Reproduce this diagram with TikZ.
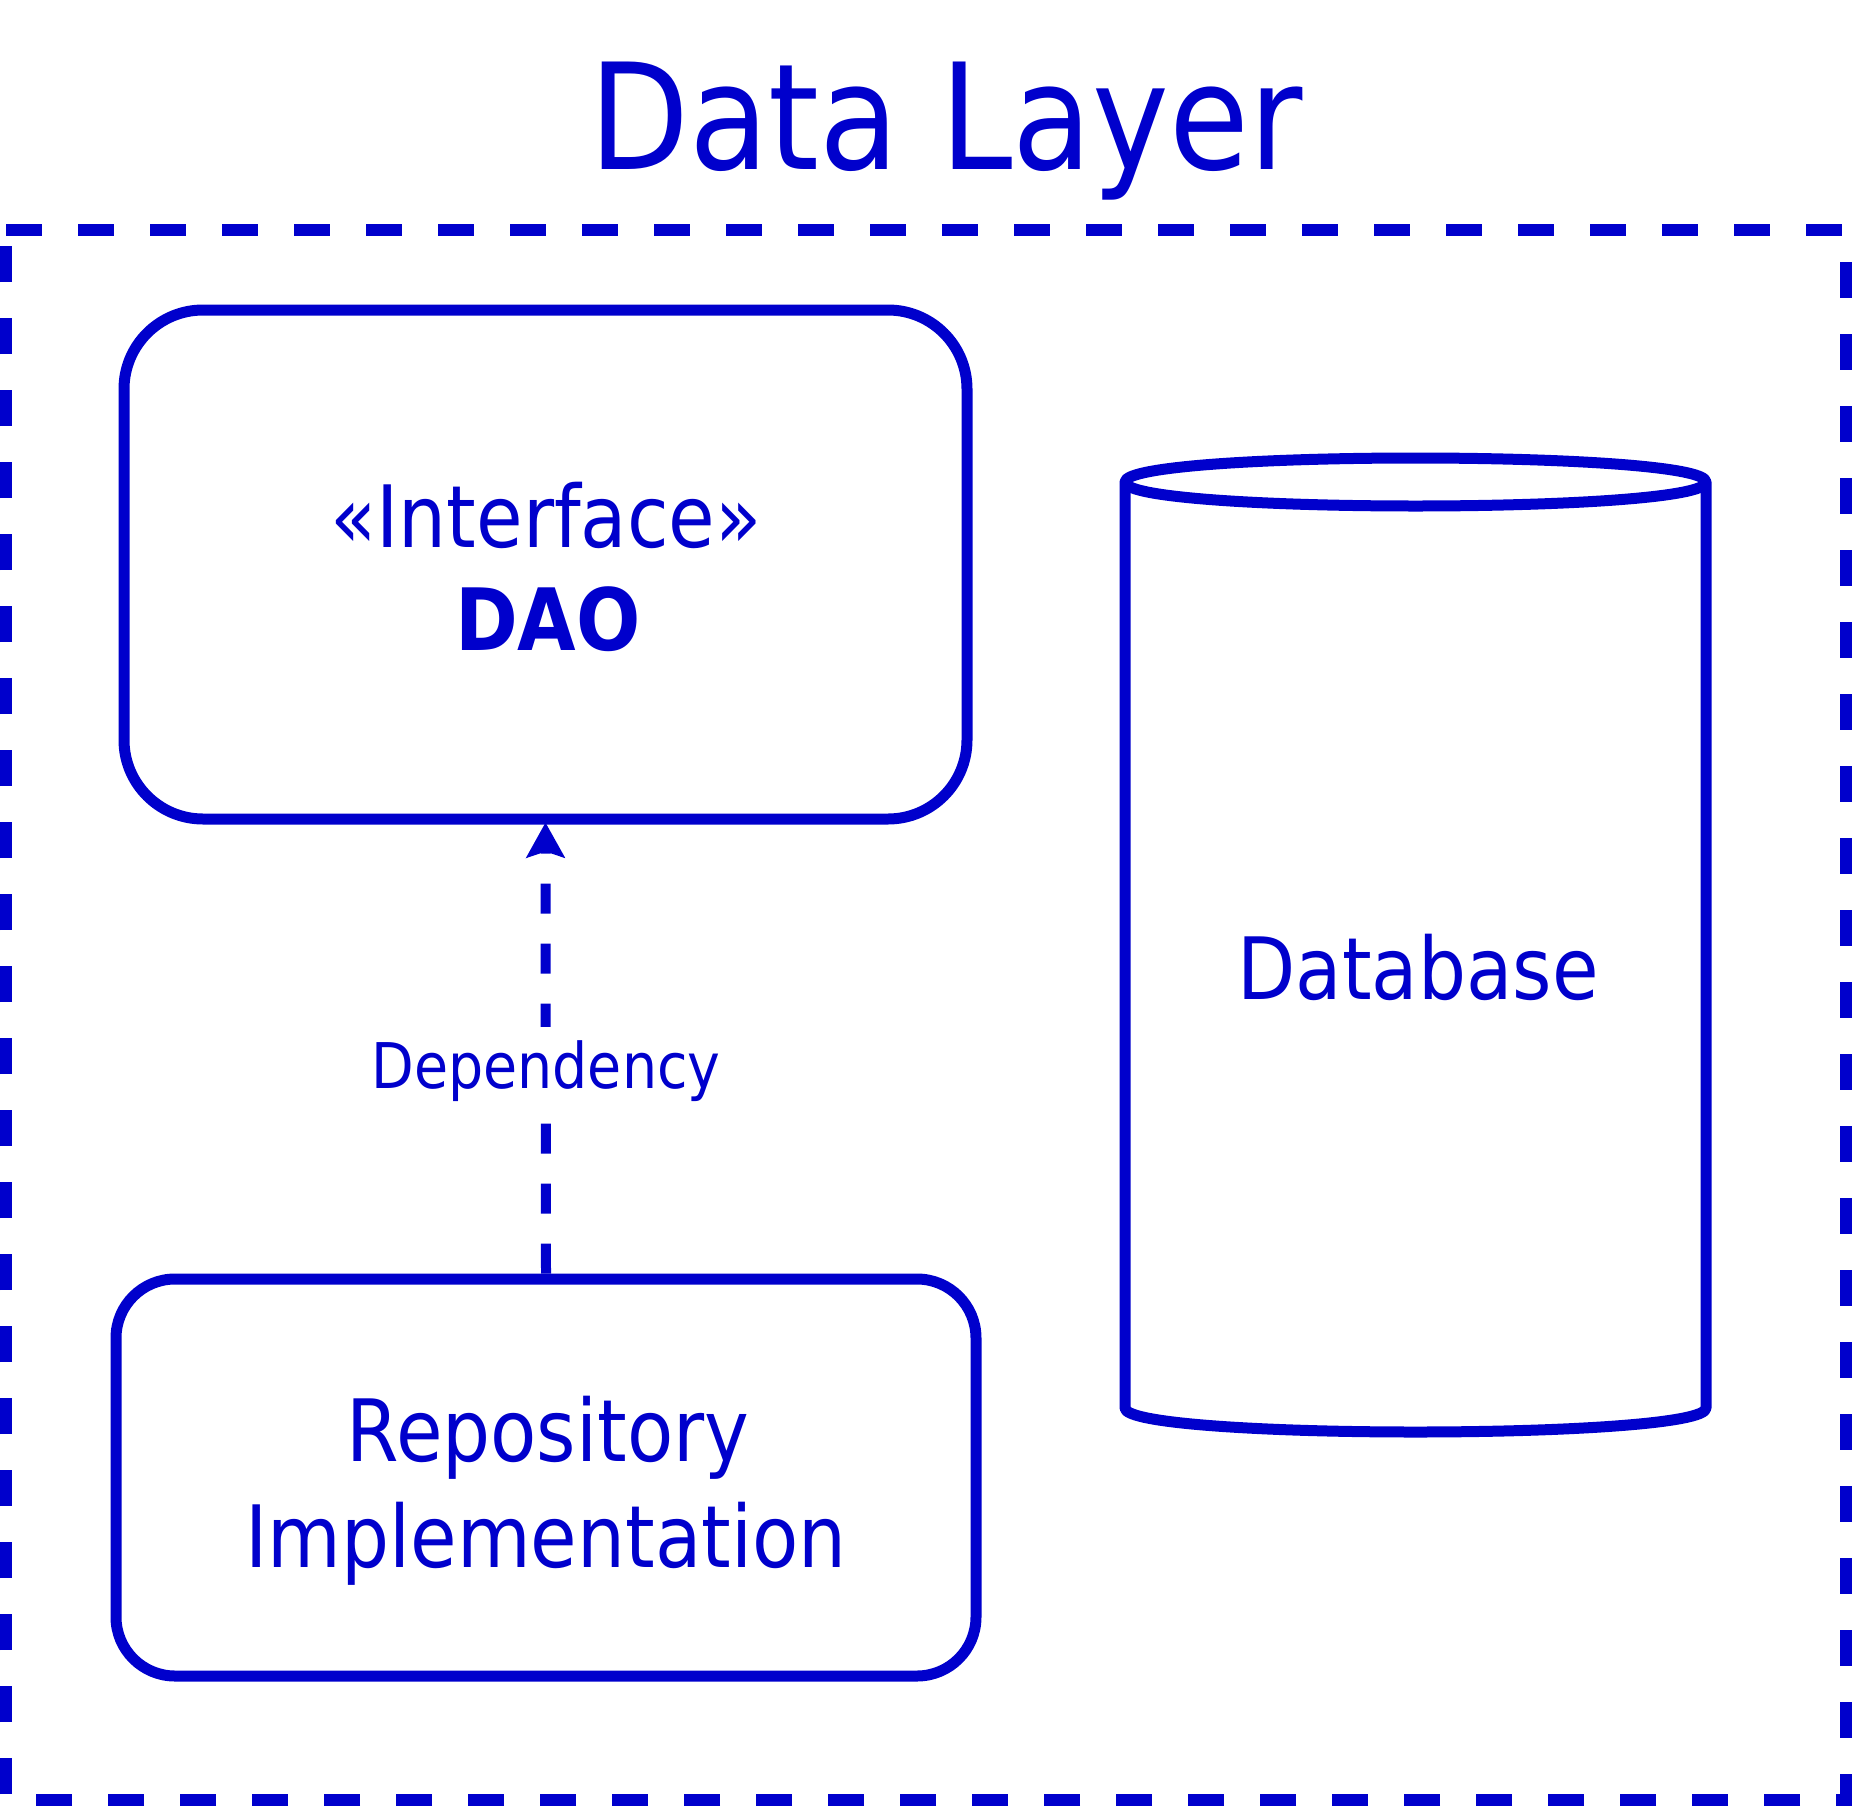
\documentclass[tikz,border=0pt]{standalone}
\usepackage{fontspec}
\setmainfont{DejaVu Sans}[FakeStretch=0.88]
\usetikzlibrary{arrows.meta}
\definecolor{dblue}{HTML}{0000CC}
\begin{document}
\begin{tikzpicture}[x=1pt,y=-1pt,
  boxstyle/.style={draw=dblue, line width=11pt, fill=white, inner sep=0pt},
  lbl/.style={text=dblue, inner sep=0pt, anchor=base, font=\fontsize{86}{100}\selectfont},
  titlelbl/.style={text=dblue, inner sep=0pt, anchor=base, font=\fontsize{147.5}{160}\selectfont},
  deplbl/.style={text=dblue, fill=white, inner xsep=6pt, inner ysep=0pt, anchor=base,
    text height=61pt, text depth=22pt, font=\fontsize{63}{70}\selectfont},
  frame/.style={draw=dblue, line width=12pt, dash pattern=on 36pt off 36pt},
  dep/.style={draw=dblue, line width=10pt, dash pattern=on 30pt off 30pt,
    -{Stealth[length=35pt, width=38pt, inset=6pt]}},
  cyl/.style={draw=dblue, line width=11pt, line join=round}
]
\useasboundingbox (0,0) rectangle (1853,1807);

% outer dashed frame
\draw[frame] (6,230) -- (1846,230) -- (1846,1800) -- (6,1800) -- cycle;

% title
\node[titlelbl] (title) at (946,169) {Data Layer};

% DAO interface box
\node[boxstyle, rounded corners=79pt, minimum width=843pt, minimum height=509pt] (dao) at (545.5,564.5) {};
\node[lbl] (stereo) at (546,547) {«Interface»};
\node[lbl, font=\fontsize{86}{100}\selectfont\bfseries] (daoname) at (548,650) {DAO};

% Repository implementation box
\node[boxstyle, rounded corners=59pt, minimum width=860pt, minimum height=397pt] (repo) at (546,1477.5) {};
\node[lbl] (repo1) at (548,1461) {Repository};
\node[lbl] (repo2) at (546,1567) {Implementation};

% dependency
\draw[dep] (repo.north) -- ([yshift=2pt]dao.south);
\node[deplbl] (deptext) at (546,1088) {Dependency};

% database cylinder
\draw[cyl] (1125,482) .. controls (1125,450) and (1706,450) .. (1706,482)
  -- (1706,1408) .. controls (1706,1440) and (1125,1440) .. (1125,1408) -- cycle;
\draw[cyl] (1125,482) .. controls (1125,514) and (1706,514) .. (1706,482);
\node[lbl] (db) at (1418,999) {Database};
\end{tikzpicture}
\end{document}
